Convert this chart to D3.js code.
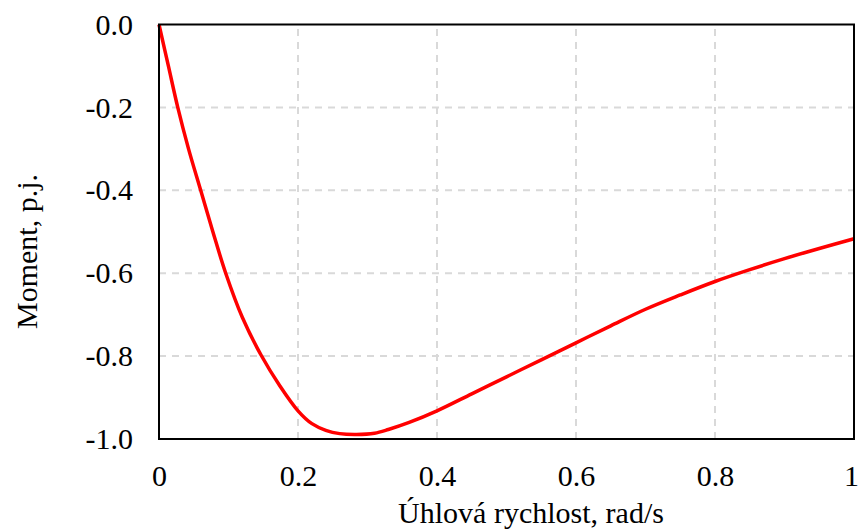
<!DOCTYPE html>
<html>
<head>
<meta charset="utf-8">
<script src="https://cdn.jsdelivr.net/npm/d3@7"></script>
<style>
  body { margin: 0; background: #fff; }
</style>
</head>
<body>
<div id="chart"></div>
<script>
// angular speed (x) and torque (y)
const speed = [0, 0.0135, 0.027, 0.0425, 0.06, 0.0775, 0.096, 0.12, 0.147, 0.174, 0.2, 0.22, 0.24, 0.26, 0.284, 0.31, 0.33, 0.36, 0.4, 0.45, 0.5, 0.55, 0.6, 0.65, 0.7, 0.75, 0.8, 0.85, 0.9, 0.95, 1.0];
const torque = [0, -0.1, -0.2, -0.3, -0.4, -0.5, -0.6, -0.707, -0.798, -0.872, -0.932, -0.963, -0.979, -0.987, -0.989, -0.986, -0.977, -0.96, -0.932, -0.891, -0.85, -0.809, -0.768, -0.727, -0.687, -0.6525, -0.62, -0.5915, -0.565, -0.5405, -0.517];
const xTicks = [0, 0.2, 0.4, 0.6, 0.8, 1];
const yTicks = [0, -0.2, -0.4, -0.6, -0.8, -1.0];

const data = speed.map((s, i) => ({ x: s, y: torque[i] }));

const width = 859;
const height = 529;
const margin = { top: 24.5, right: 5, bottom: 90, left: 159 };
const fontSize = 30;

const x = d3.scaleLinear()
    .domain([0, 1])
    .range([margin.left, width - margin.right]);

const y = d3.scaleLinear()
    .domain([-1, 0])
    .range([height - margin.bottom, margin.top]);

const svg = d3.select("#chart").append("svg")
    .attr("width", width)
    .attr("height", height)
    .attr("style", "font-family: 'Liberation Serif', 'Times New Roman', serif;");

// grid lines
svg.append("g")
    .attr("stroke", "#d9d9d9")
    .attr("stroke-width", 2)
    .attr("stroke-dasharray", "7,6")
    .call(g => g.selectAll("line.v")
        .data(xTicks.slice(1, -1))
        .join("line")
        .attr("class", "v")
        .attr("x1", d => x(d)).attr("x2", d => x(d))
        .attr("y1", y(-1)).attr("y2", y(0)))
    .call(g => g.selectAll("line.h")
        .data(yTicks.slice(1, -1))
        .join("line")
        .attr("class", "h")
        .attr("x1", x(0)).attr("x2", x(1))
        .attr("y1", d => y(d)).attr("y2", d => y(d)));

// curve
const line = d3.line()
    .x(d => x(d.x))
    .y(d => y(d.y))
    .curve(d3.curveCatmullRom.alpha(0.5));

svg.append("path")
    .datum(data)
    .attr("fill", "none")
    .attr("stroke", "#ff0000")
    .attr("stroke-width", 3.5)
    .attr("stroke-linejoin", "round")
    .attr("d", line);

// frame
svg.append("rect")
    .attr("x", x(0))
    .attr("y", y(0))
    .attr("width", x(1) - x(0))
    .attr("height", y(-1) - y(0))
    .attr("fill", "none")
    .attr("stroke", "#000")
    .attr("stroke-width", 2);

// plain hyphen instead of unicode minus
const fmt = d => d3.format(".1f")(d).replace("−", "-");

// axes (labels only)
svg.append("g")
    .attr("transform", `translate(0,${y(-1)})`)
    .call(d3.axisBottom(x).tickValues(xTicks).tickSize(0).tickPadding(26)
        .tickFormat(d => d === 0 ? "0" : d === 1 ? "1" : fmt(d)))
    .call(g => g.select(".domain").remove())
    .call(g => g.selectAll("text")
        .attr("font-size", fontSize)
        .attr("font-family", "'Liberation Serif', serif")
        .attr("fill", "#000")
        .attr("dx", d => d === 1 ? -3 : 0));

svg.append("g")
    .attr("transform", `translate(${x(0)},0)`)
    .call(d3.axisLeft(y).tickValues(yTicks).tickSize(0).tickPadding(26)
        .tickFormat(fmt))
    .call(g => g.select(".domain").remove())
    .call(g => g.selectAll("text")
        .attr("font-size", fontSize)
        .attr("font-family", "'Liberation Serif', serif")
        .attr("fill", "#000"));

// axis titles
svg.append("text")
    .attr("x", 531)
    .attr("y", 523)
    .attr("text-anchor", "middle")
    .attr("font-size", fontSize)
    .text("Úhlová rychlost, rad/s");

svg.append("text")
    .attr("transform", "translate(37,251.5) rotate(-90)")
    .attr("text-anchor", "middle")
    .attr("font-size", fontSize)
    .text("Moment, p.j.");
</script>
</body>
</html>
